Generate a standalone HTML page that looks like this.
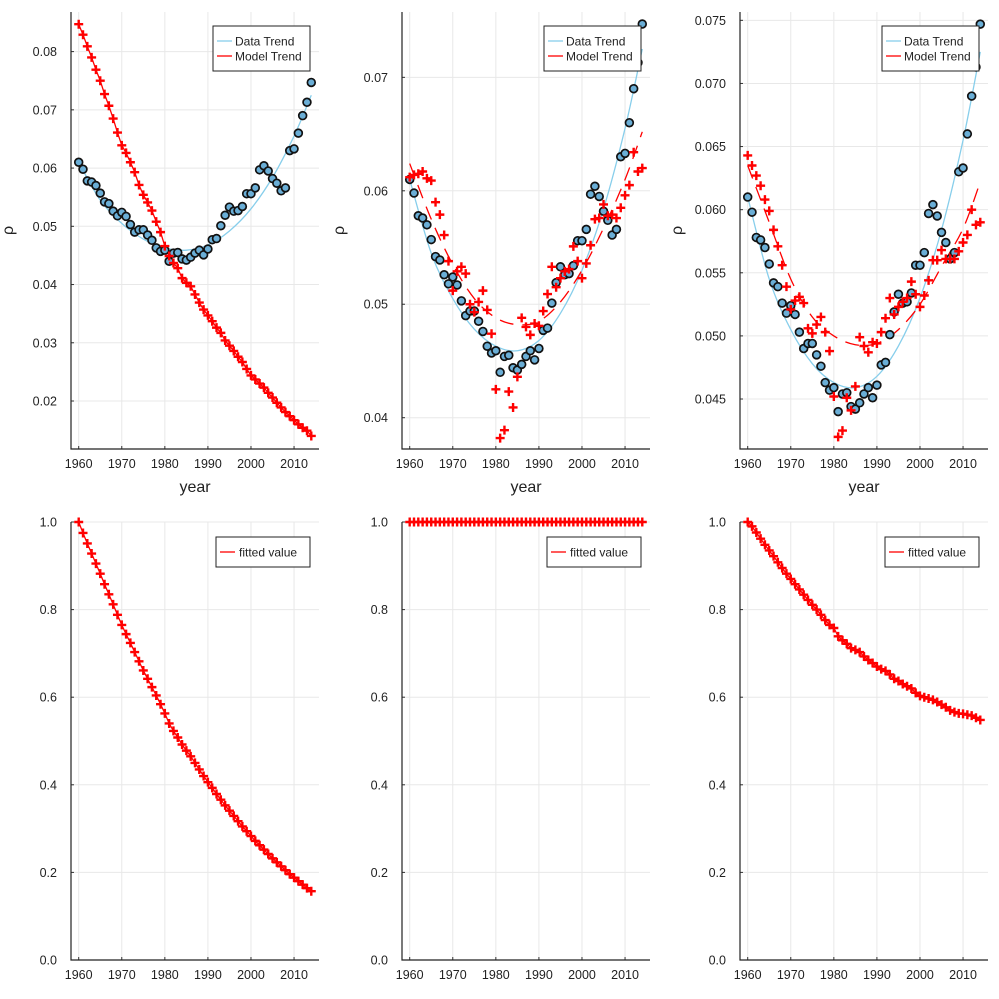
<!DOCTYPE html>
<html><head><meta charset="utf-8"><style>
html,body{margin:0;padding:0;background:#fff;}
svg{display:block;font-family:"Liberation Sans","DejaVu Sans",sans-serif;}
</style></head><body>
<svg id="chart" width="999" height="999" viewBox="0 0 999 999" xmlns="http://www.w3.org/2000/svg"></svg>
<script>
const years = [];
for (let y = 1960; y <= 2014; y++) years.push(y);
const dataValues = [0.0610,0.0598,0.0578,0.0576,0.0570,0.0557,0.0542,0.0539,0.0526,0.0518,0.0524,0.0517,0.0503,0.0490,0.0494,0.0494,0.0485,0.0476,0.0463,0.0457,0.0459,0.0440,0.0454,0.0455,0.0444,0.0442,0.0447,0.0454,0.0459,0.0451,0.0461,0.0477,0.0479,0.0501,0.0519,0.0533,0.0526,0.0527,0.0534,0.0556,0.0556,0.0566,0.0597,0.0604,0.0595,0.0582,0.0574,0.0561,0.0566,0.0630,0.0633,0.0660,0.0690,0.0713,0.0747];
const trendYears = [1960,1965,1970,1975,1980,1985,1990,1995,2000,2005,2010,2014];
const dataTrend = [0.0610,0.0545,0.0505,0.0478,0.0463,0.0459,0.0468,0.0492,0.0530,0.0584,0.0655,0.0725];
const model1 = [0.0847,0.0829,0.0809,0.0790,0.0769,0.0750,0.0727,0.0707,0.0685,0.0661,0.0639,0.0626,0.0610,0.0593,0.0571,0.0554,0.0541,0.0527,0.0508,0.0490,0.0466,0.0449,0.0437,0.0428,0.0411,0.0403,0.0397,0.0383,0.0369,0.0357,0.0347,0.0337,0.0326,0.0317,0.0304,0.0295,0.0286,0.0276,0.0267,0.0255,0.0244,0.0237,0.0230,0.0223,0.0214,0.0206,0.0197,0.0189,0.0181,0.0174,0.0167,0.0160,0.0154,0.0149,0.0140];
const model2 = [0.0612,0.0614,0.0615,0.0617,0.0611,0.0609,0.0590,0.0579,0.0561,0.0538,0.0512,0.0529,0.0533,0.0527,0.0500,0.0493,0.0502,0.0512,0.0495,0.0474,0.0425,0.0382,0.0389,0.0423,0.0409,0.0436,0.0488,0.0480,0.0473,0.0483,0.0481,0.0494,0.0509,0.0533,0.0515,0.0523,0.0529,0.0531,0.0551,0.0538,0.0523,0.0536,0.0552,0.0575,0.0576,0.0588,0.0578,0.0579,0.0576,0.0585,0.0596,0.0605,0.0634,0.0617,0.0620];
const modelTrend2 = [0.0624,0.0575,0.0535,0.0505,0.0488,0.0482,0.0485,0.0502,0.0530,0.0567,0.0610,0.0652];
const model3 = [0.0643,0.0635,0.0627,0.0619,0.0608,0.0599,0.0584,0.0571,0.0556,0.0539,0.0521,0.0528,0.0531,0.0526,0.0506,0.0502,0.0509,0.0515,0.0503,0.0488,0.0452,0.0420,0.0425,0.0451,0.0441,0.0460,0.0499,0.0492,0.0487,0.0495,0.0494,0.0503,0.0514,0.0530,0.0517,0.0523,0.0527,0.0530,0.0543,0.0533,0.0523,0.0532,0.0544,0.0560,0.0560,0.0568,0.0561,0.0561,0.0561,0.0567,0.0574,0.0580,0.0600,0.0588,0.0590];
const modelTrend3 = [0.0635,0.0590,0.0545,0.0515,0.0500,0.0493,0.0494,0.0505,0.0525,0.0555,0.0585,0.0622];
const fitted1 = [1.0,.975,.951,.928,.905,.882,.858,.835,.812,.788,.765,.744,.724,.703,.682,.661,.642,.623,.604,.584,.563,.540,.523,.508,.492,.478,.465,.450,.435,.420,.406,.393,.379,.366,.353,.341,.329,.317,.305,.294,.283,.272,.262,.252,.242,.232,.223,.214,.205,.196,.188,.180,.172,.164,.157];
const fitted2 = years.map(() => 1.0);
const fitted3 = [1.0,.990,.976,.962,.948,.935,.922,.908,.895,.882,.870,.858,.846,.834,.822,.811,.800,.788,.776,.765,.758,.739,.730,.722,.712,.708,.703,.693,.685,.678,.670,.664,.660,.652,.642,.637,.630,.625,.620,.610,.603,.600,.597,.594,.589,.583,.577,.570,.566,.563,.562,.560,.558,.553,.548];
const xTicks = [1960,1970,1980,1990,2000,2010];
const yTicks1 = [0.02,0.03,0.04,0.05,0.06,0.07,0.08];
const yTicks2 = [0.04,0.05,0.06,0.07];
const yTicks3 = [0.045,0.050,0.055,0.060,0.065,0.070,0.075];
const yTicksB = [0,0.2,0.4,0.6,0.8,1.0];

const NS = "http://www.w3.org/2000/svg";
const svg = document.getElementById('chart');
function mk(tag, attrs, parent) {
  const e = document.createElementNS(NS, tag);
  for (const k in attrs) e.setAttribute(k, attrs[k]);
  (parent || svg).appendChild(e);
  return e;
}
function smoothPath(pts) {
  let d = 'M' + pts[0][0] + ',' + pts[0][1];
  for (let i = 0; i < pts.length - 1; i++) {
    const p0 = pts[Math.max(0, i - 1)], p1 = pts[i], p2 = pts[i + 1], p3 = pts[Math.min(pts.length - 1, i + 2)];
    const c1x = p1[0] + (p2[0] - p0[0]) / 6, c1y = p1[1] + (p2[1] - p0[1]) / 6;
    const c2x = p2[0] - (p3[0] - p1[0]) / 6, c2y = p2[1] - (p3[1] - p1[1]) / 6;
    d += ' C' + c1x + ',' + c1y + ' ' + c2x + ',' + c2y + ' ' + p2[0] + ',' + p2[1];
  }
  return d;
}
function linePath(pts) { return pts.map((p, i) => (i ? 'L' : 'M') + p[0] + ',' + p[1]).join(' '); }

function panel(cfg) {
  const g = mk('g', {});
  
  
  const L = cfg.left, R = L + 248, T = cfg.top, B = cfg.bottom;
  const xs = v => L + 7.7 + (v - 1960) * 4.307;
  const ys = v => B - (v - cfg.ymin) / (cfg.ymax - cfg.ymin) * (B - T);
  const clipId = 'clip-' + cfg.name;
  const cp = mk('clipPath', { id: clipId }, g);
  mk('rect', { x: L, y: T - 6, width: R - L + 2, height: B - T + 6 }, cp);
  xTicks.forEach(t => {
    const gl = mk('line', { x1: xs(t), x2: xs(t), y1: T, y2: B, stroke: '#e8e8e8', 'stroke-width': 1 }, g);
    
    
    const tl = mk('text', { x: xs(t), y: B + 19, 'text-anchor': 'middle', 'font-size': 12.5, fill: '#222' }, g);
    tl.textContent = t;
    
    
    mk('line', { x1: xs(t), x2: xs(t), y1: B, y2: B - 3, stroke: '#333' }, g);
  });
  cfg.yTicks.forEach(t => {
    const gl = mk('line', { x1: L, x2: R, y1: ys(t), y2: ys(t), stroke: '#e8e8e8', 'stroke-width': 1 }, g);
    
    
    const tl = mk('text', { x: L - 14, y: ys(t) + 4.5, 'text-anchor': 'end', 'font-size': 12.5, fill: '#222' }, g);
    tl.textContent = cfg.fmt(t);
    
    
    mk('line', { x1: L, x2: L + 3, y1: ys(t), y2: ys(t), stroke: '#333' }, g);
  });
  const ax = mk('path', { d: 'M' + L + ',' + (T) + ' L' + L + ',' + B + ' L' + R + ',' + B, fill: 'none', stroke: '#222', 'stroke-width': 1.2 }, g);
  
  
  if (cfg.xlabel) {
    const xl = mk('text', { x: (L + R) / 2, y: B + 43, 'text-anchor': 'middle', 'font-size': 16, fill: '#222' }, g);
    xl.textContent = 'year';
    
    
    const yl = mk('text', { x: 0, y: 0, 'text-anchor': 'middle', 'font-size': 16, fill: '#222', transform: 'translate(' + (L - 58) + ',' + ((T + B) / 2) + ') rotate(-90)' }, g);
    yl.textContent = 'ρ';
    
    
  }
  const pg = mk('g', { 'clip-path': 'url(#' + clipId + ')' }, g);
  if (cfg.dataTrend) {
    const p = mk('path', { d: smoothPath(trendYears.map((y, i) => [xs(y), ys(cfg.dataTrend[i])])), fill: 'none', stroke: '#87ceeb', 'stroke-width': 1.3 }, pg);
    
    
  }
  if (cfg.modelLine) {
    const p = mk('path', { d: linePath(years.map((y, i) => [xs(y), ys(cfg.modelLine[i])])), fill: 'none', stroke: 'red', 'stroke-width': 1.3 }, pg);
    
    
  }
  if (cfg.modelTrend) {
    const p = mk('path', { d: smoothPath(trendYears.map((y, i) => [xs(y), ys(cfg.modelTrend[i])])), fill: 'none', stroke: 'red', 'stroke-width': 1.3, 'stroke-dasharray': '14,9' }, pg);
    
    
  }
  if (cfg.data) {
    cfg.data.forEach((v, i) => {
      const c = mk('circle', { cx: xs(years[i]), cy: ys(v), r: 3.9, fill: '#6aaed6', stroke: '#111', 'stroke-width': 1.7 }, pg);
      
      
    });
  }
  cfg.model.forEach((v, i) => {
    const x = xs(years[i]), y = ys(v), s = 4.5;
    const c = mk('path', { d: 'M' + (x - s) + ',' + y + ' H' + (x + s) + ' M' + x + ',' + (y - s) + ' V' + (y + s), stroke: 'red', 'stroke-width': 2.4, fill: 'none' }, g);
    
    
  });
  const lg = mk('g', {}, g);
  
  
  if (cfg.data) {
    mk('rect', { x: L + 142, y: T + 14, width: 97, height: 45, fill: '#fff', stroke: '#222', 'stroke-width': 1 }, lg);
    mk('line', { x1: L + 146, x2: L + 161, y1: T + 29, y2: T + 29, stroke: '#87ceeb', 'stroke-width': 1.3 }, lg);
    const t1 = mk('text', { x: L + 164, y: T + 33.5, 'font-size': 12, fill: '#222' }, lg);
    t1.textContent = 'Data Trend';
    
    
    mk('line', { x1: L + 146, x2: L + 161, y1: T + 44, y2: T + 44, stroke: 'red', 'stroke-width': 1.3 }, lg);
    const t2 = mk('text', { x: L + 164, y: T + 48.5, 'font-size': 12, fill: '#222' }, lg);
    t2.textContent = 'Model Trend';
    
    
  } else {
    mk('rect', { x: L + 145, y: T + 15, width: 94, height: 30, fill: '#fff', stroke: '#222', 'stroke-width': 1 }, lg);
    mk('line', { x1: L + 149, x2: L + 164, y1: T + 30, y2: T + 30, stroke: 'red', 'stroke-width': 1.3 }, lg);
    const t1 = mk('text', { x: L + 168, y: T + 34.5, 'font-size': 12, fill: '#222' }, lg);
    t1.textContent = 'fitted value';
    
    
  }
}
const f2 = v => v.toFixed(2), f3 = v => v.toFixed(3), f1 = v => v.toFixed(1);
panel({ name: 'panel-top-left', left: 71, top: 12, bottom: 449, ymin: 0.01176, ymax: 0.0868, yTicks: yTicks1, fmt: f2, xlabel: true, data: dataValues, dataTrend: dataTrend, modelLine: model1, model: model1 });
panel({ name: 'panel-top-middle', left: 402, top: 12, bottom: 449, ymin: 0.03724, ymax: 0.07576, yTicks: yTicks2, fmt: f2, xlabel: true, data: dataValues, dataTrend: dataTrend, modelTrend: modelTrend2, model: model2 });
panel({ name: 'panel-top-right', left: 740, top: 12, bottom: 449, ymin: 0.04104, ymax: 0.07566, yTicks: yTicks3, fmt: f3, xlabel: true, data: dataValues, dataTrend: dataTrend, modelTrend: modelTrend3, model: model3 });
panel({ name: 'panel-bottom-left', left: 71, top: 522, bottom: 960, ymin: 0, ymax: 1, yTicks: yTicksB, fmt: f1, modelLine: fitted1, model: fitted1 });
panel({ name: 'panel-bottom-middle', left: 402, top: 522, bottom: 960, ymin: 0, ymax: 1, yTicks: yTicksB, fmt: f1, modelLine: fitted2, model: fitted2 });
panel({ name: 'panel-bottom-right', left: 740, top: 522, bottom: 960, ymin: 0, ymax: 1, yTicks: yTicksB, fmt: f1, modelLine: fitted3, model: fitted3 });
</script>
</body></html>
